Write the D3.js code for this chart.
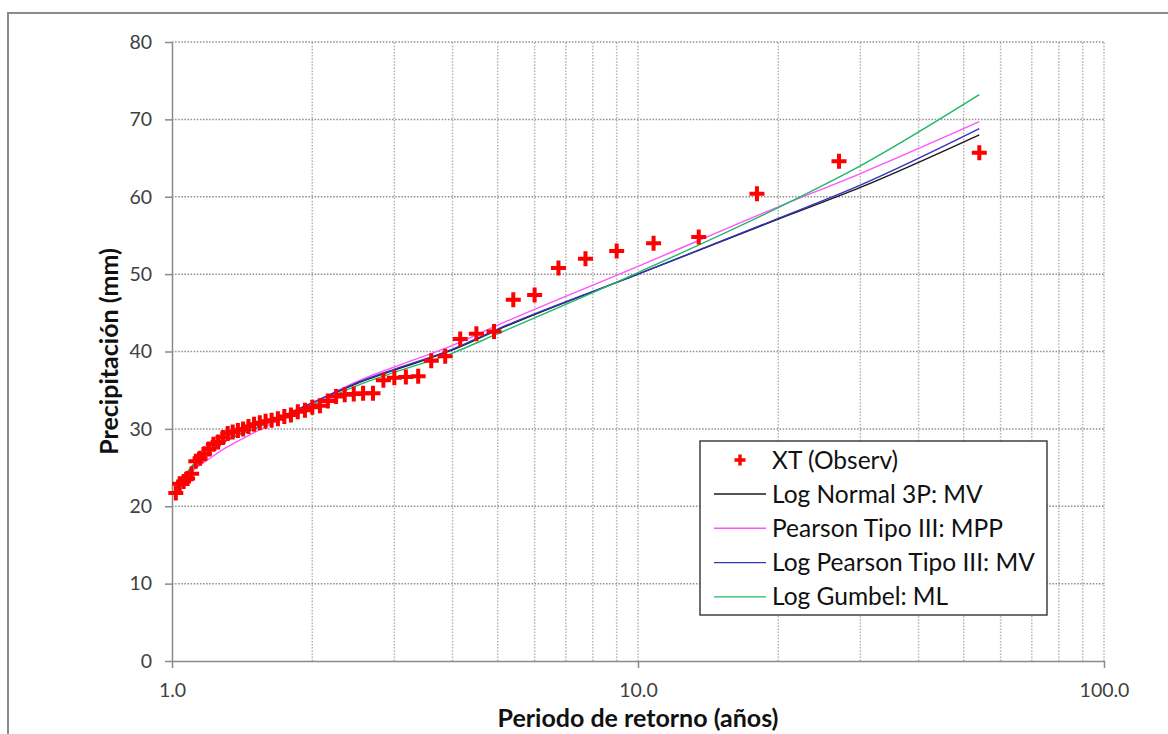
<!DOCTYPE html>
<html>
<head>
<meta charset="utf-8">
<script src="https://cdn.jsdelivr.net/npm/d3@7"></script>
<style>
body { margin: 0; background: #fff; }
svg { font-family: Lato, 'Open Sans', sans-serif; }
</style>
</head>
<body>
<div id="chart"></div>
<script>
// periodo de retorno de los datos observados: T = 54 / m
var obsT = [54, 27, 18, 13.5, 10.8, 9, 7.714, 6.75, 6, 5.4, 4.909, 4.5, 4.154, 3.857, 3.6, 3.375, 3.176, 3, 2.842, 2.7,
	2.571, 2.455, 2.348, 2.25, 2.16, 2.077, 2, 1.929, 1.862, 1.8, 1.742, 1.6875, 1.636, 1.588, 1.543, 1.5, 1.459, 1.421,
	1.385, 1.35, 1.317, 1.286, 1.256, 1.227, 1.2, 1.174, 1.149, 1.125, 1.102, 1.08, 1.059, 1.0385, 1.019]
var obsXT = [65.7, 64.6, 60.4, 54.8, 54.0, 53.0, 52.0, 50.8, 47.3, 46.7, 42.6, 42.3, 41.6, 39.4, 38.8, 36.8, 36.7, 36.6, 36.3, 34.6,
	34.6, 34.5, 34.4, 34.2, 33.6, 33.0, 32.8, 32.4, 32.2, 31.8, 31.6, 31.3, 31.1, 31.0, 30.8, 30.6, 30.3, 30.0,
	29.8, 29.6, 29.4, 28.9, 28.3, 28.0, 27.4, 26.8, 26.2, 25.8, 24.2, 23.6, 23.2, 22.9, 21.7]

var fitT = [1.019, 1.05, 1.1, 1.2, 1.3, 1.5, 2, 2.6, 3, 4, 5, 10, 20, 30, 54]
var logNormal3P = [22.3, 23.3, 25.0, 27.0, 28.4, 30.0, 33.3, 36.3, 37.6, 40.2, 42.8, 50.0, 57.1, 61.2, 68.0]
var pearson3 = [22.2, 23.0, 24.4, 26.1, 27.5, 29.5, 33.3, 36.6, 38.0, 40.8, 43.4, 51.0, 58.7, 63.0, 69.7]
var logPearson3 = [22.3, 23.3, 25.0, 27.0, 28.4, 30.0, 33.4, 36.4, 37.7, 40.3, 42.9, 50.0, 57.2, 61.5, 68.8]
var logGumbel = [22.4, 23.4, 25.1, 27.1, 28.4, 30.0, 33.1, 36.0, 37.3, 39.8, 42.3, 50.2, 58.6, 64.0, 73.2]

var yTicks = [0, 10, 20, 30, 40, 50, 60, 70, 80]
var xTicks = [1, 10, 100]
var xGrid = [2, 3, 4, 5, 6, 7, 8, 9, 10, 20, 30, 40, 50, 60, 70, 80, 90, 100]

var series = [
	{ name: 'Log Normal 3P: MV', values: logNormal3P, color: '#1a1a1a' },
	{ name: 'Pearson Tipo III: MPP', values: pearson3, color: '#ff55ff' },
	{ name: 'Log Pearson Tipo III: MV', values: logPearson3, color: '#3434c0' },
	{ name: 'Log Gumbel: ML', values: logGumbel, color: '#1fb866' }
]

var width = 1168, height = 734
var svg = d3.select('#chart').append('svg').attr('width', width).attr('height', height)

svg.append('rect').attr('x', 8).attr('y', 13).attr('width', 1200).attr('height', 800)
	.attr('fill', 'none').attr('stroke', '#8a8a8a').attr('stroke-width', 2)

var x = d3.scaleLog().domain([1, 100]).range([172, 1104])
var y = d3.scaleLinear().domain([0, 80]).range([661, 42])

var grid = svg.append('g')
grid.selectAll('.vg').data(xGrid).enter().append('line')
	.attr('x1', function(d) { return x(d) }).attr('x2', function(d) { return x(d) })
	.attr('y1', y(0)).attr('y2', y(80))
	.attr('stroke', '#b4b4b4').attr('stroke-width', 1.5).attr('stroke-dasharray', '1.5,1.6')
grid.selectAll('.hg').data(yTicks.slice(1)).enter().append('line')
	.attr('x1', x(1)).attr('x2', x(100))
	.attr('y1', function(d) { return y(d) }).attr('y2', function(d) { return y(d) })
	.attr('stroke', '#8e8e8e').attr('stroke-width', 1.5).attr('stroke-dasharray', '1.5,1.6')

var yAxis = svg.append('g').attr('transform', 'translate(' + x(1) + ',0)')
	.call(d3.axisLeft(y).tickValues(yTicks).tickSize(7).tickSizeOuter(0).tickPadding(13))
var xAxis = svg.append('g').attr('transform', 'translate(0,' + y(0) + ')')
	.call(d3.axisBottom(x).tickValues(xTicks).tickFormat(d3.format('.1f')).tickSize(7).tickSizeOuter(0).tickPadding(15))

svg.selectAll('.domain').attr('stroke', '#8a8a8a').attr('stroke-width', 1.5)
svg.selectAll('.tick line').attr('stroke', '#8a8a8a').attr('stroke-width', 1.5)
svg.selectAll('.tick text').attr('font-size', '19.5px').attr('fill', '#404040').attr('font-family', 'Lato, sans-serif')

var line = d3.line()
	.x(function(d) { return x(d[0]) })
	.y(function(d) { return y(d[1]) })
	.curve(d3.curveMonotoneX)

svg.append('g').selectAll('path').data(series).enter().append('path')
	.attr('d', function(s) { return line(fitT.map(function(t, i) { return [t, s.values[i]] })) })
	.attr('fill', 'none').attr('stroke', function(s) { return s.color }).attr('stroke-width', 1.4)

var plus = 'M-7.5,0H7.5M0,-7.5V7.5'
svg.append('g').selectAll('path').data(obsT).enter().append('path')
	.attr('transform', function(d, i) { return 'translate(' + x(d) + ',' + y(obsXT[i]) + ')' })
	.attr('d', plus).attr('stroke', '#ff0000').attr('stroke-width', 4).attr('fill', 'none')

svg.append('text').attr('transform', 'translate(118,' + ((y(0) + y(80)) / 2) + ') rotate(-90)')
	.attr('text-anchor', 'middle').attr('font-size', '25px').attr('font-weight', 'bold').attr('fill', '#111')
	.text('Precipitación (mm)')
svg.append('text').attr('x', x(10)).attr('y', 727)
	.attr('text-anchor', 'middle').attr('font-size', '25px').attr('font-weight', 'bold').attr('fill', '#111')
	.text('Periodo de retorno (años)')

// leyenda
var legend = svg.append('g').attr('transform', 'translate(700,441)')
legend.append('rect').attr('width', 347).attr('height', 174)
	.attr('fill', '#fff').attr('stroke', '#333').attr('stroke-width', 1.4)
legend.append('path').attr('d', 'M-5.5,0H5.5M0,-5.5V5.5').attr('transform', 'translate(40,19)')
	.attr('stroke', '#ff0000').attr('stroke-width', 3.4)
legend.append('text').attr('x', 72).attr('y', 19).attr('dy', '0.35em')
	.attr('font-size', '24.5px').attr('fill', '#111').text('XT (Observ)')
var rows = legend.selectAll('.row').data(series).enter().append('g')
	.attr('transform', function(d, i) { return 'translate(0,' + (53 + i * 34.3) + ')' })
rows.append('line').attr('x1', 14).attr('x2', 66)
	.attr('stroke', function(d) { return d.color }).attr('stroke-width', 1.4)
rows.append('text').attr('x', 72).attr('dy', '0.35em')
	.attr('font-size', '24.5px').attr('fill', '#111').text(function(d) { return d.name })
</script>
</body>
</html>
